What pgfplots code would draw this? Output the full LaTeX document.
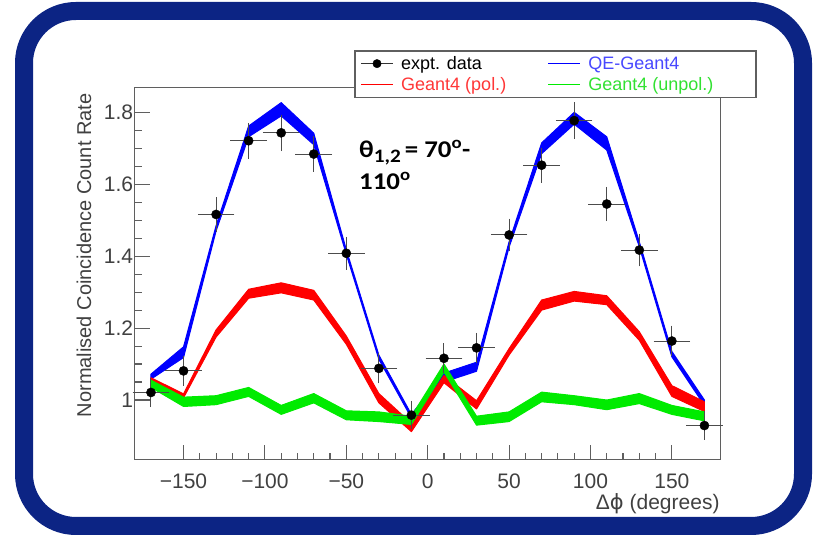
\documentclass[border=0pt]{standalone}
\usepackage{fontspec}
\setmainfont{Liberation Sans}
\newfontfamily\carlito[FakeStretch=1.12]{Carlito}
\newfontfamily\dejavu{DejaVu Sans}
\usepackage{pgfplots}
\pgfplotsset{compat=1.18}
\definecolor{navy}{RGB}{12,36,132}
\definecolor{axgray}{RGB}{95,95,95}
\definecolor{rgreen}{RGB}{0,235,0}
\definecolor{rblue}{RGB}{0,0,255}
\definecolor{rred}{RGB}{255,0,0}
\definecolor{tblue}{RGB}{72,72,255}
\definecolor{tred}{RGB}{255,55,55}
\definecolor{tgreen}{RGB}{50,225,50}
\begin{document}
\begin{tikzpicture}[x=1pt,y=1pt]
\path[use as bounding box] (0pt,0pt) rectangle (815pt,538pt);
\draw[navy, line width=18pt, rounded corners=52pt] (24pt,12pt) rectangle (803pt,527pt);
\begin{axis}[
  at={(134.7pt,78.4pt)}, anchor=south west, scale only axis,
  width=586pt, height=372.3pt, clip=false,
  xmin=-180, xmax=180, ymin=0.8343, ymax=1.8696,
  axis line style={axgray, line width=1.3pt},
  xtick={-150,-100,...,150}, xticklabels={−150,−100,−50,0,50,100,150},
  ytick={1,1.2,1.4,1.6,1.8}, yticklabels={1,1.2,1.4,1.6,1.8},
  minor x tick num=4, minor y tick num=3,
  tick pos=left,
  tick style={axgray, line width=1.1pt},
  major tick length=15pt, minor tick length=7pt,
  tick label style={font=\fontsize{21}{25}\selectfont, text=black!75},
  xticklabel style={yshift=-11pt},
  yticklabel style={xshift=2pt},
  xlabel={Δ{\dejavu ϕ} (degrees)},
  ylabel={Normalised Coincidence Count Rate},
  xlabel style={at={(axis description cs:1.004,-0.1185)}, anchor=east, font=\fontsize{21}{25}\selectfont, text=black!75},
  ylabel style={at={(axis description cs:-0.0865,0.9927)}, anchor=east, font=\fontsize{20}{24}\selectfont, text=black!75},
  legend columns=2, legend cell align=left,
  legend style={draw=none, fill=none, at={(axis description cs:0.3862,1.089)}, anchor=north west,
    font=\fontsize{18}{21}\selectfont, inner sep=0pt, row sep=3pt,
    /tikz/every odd column/.append style={column sep=6pt},
    /tikz/every even column/.append style={column sep=40pt}},
]
% QE-Geant4 band
\addplot[draw=rblue, fill=rblue, line width=1pt, line join=round, forget plot] coordinates {
 (-170,1.072) (-150,1.148) (-130,1.485) (-110,1.762) (-90,1.827) (-70,1.742)
 (-50,1.418) (-30,1.125) (-10,0.960) (10,1.075) (30,1.105) (50,1.440)
 (70,1.715) (90,1.800) (110,1.732) (130,1.440) (150,1.135) (170,1.000)
 (170,0.985) (150,1.120) (130,1.426) (110,1.695) (90,1.767) (70,1.685)
 (50,1.425) (30,1.080) (10,1.050) (-10,0.950) (-30,1.113) (-50,1.405)
 (-70,1.710) (-90,1.790) (-110,1.732) (-130,1.470) (-150,1.118) (-170,1.058)
} -- cycle;
% Geant4 (pol.) band
\addplot[draw=rred, fill=rred, line width=1pt, line join=round, forget plot] coordinates {
 (-170,1.062) (-150,1.017) (-130,1.195) (-110,1.308) (-90,1.326) (-70,1.305)
 (-50,1.178) (-30,1.018) (-10,0.935) (10,1.068) (30,0.998) (50,1.143)
 (70,1.278) (90,1.302) (110,1.290) (130,1.190) (150,1.040) (170,0.995)
 (170,0.968) (150,1.010) (130,1.166) (110,1.265) (90,1.275) (70,1.250)
 (50,1.125) (30,0.975) (10,1.048) (-10,0.912) (-30,0.992) (-50,1.155)
 (-70,1.278) (-90,1.298) (-110,1.283) (-130,1.175) (-150,1.006) (-170,1.050)
} -- cycle;
% Geant4 (unpol.) band
\addplot[draw=rgreen, fill=rgreen, line width=1pt, line join=round, forget plot] coordinates {
 (-170,1.055) (-150,1.008) (-130,1.012) (-110,1.035) (-90,0.985) (-70,1.018)
 (-50,0.970) (-30,0.967) (-10,0.955) (10,1.100) (30,0.955) (50,0.967)
 (70,1.022) (90,1.012) (110,1.000) (130,1.018) (150,0.985) (170,0.967)
 (170,0.942) (150,0.960) (130,0.990) (110,0.973) (90,0.987) (70,0.995)
 (50,0.940) (30,0.930) (10,1.078) (-10,0.932) (-30,0.940) (-50,0.945)
 (-70,0.992) (-90,0.960) (-110,1.010) (-130,0.987) (-150,0.982) (-170,1.035)
} -- cycle;
% experimental data
\addplot[black, only marks, mark=*, mark size=4.6pt, forget plot,
  error bars/.cd, x dir=both, x explicit, y dir=both, y explicit,
  error bar style={black!70, line width=1pt},
  error mark options={black!70, line width=1pt, mark size=2pt}] coordinates {
 (-170,1.021) +- (10,0.035)
 (-150,1.081) +- (10,0.036)
 (-130,1.516) +- (10,0.042)
 (-110,1.721) +- (10,0.044)
 (-90,1.743) +- (10,0.045)
 (-70,1.684) +- (10,0.044)
 (-50,1.408) +- (10,0.040)
 (-30,1.088) +- (10,0.036)
 (-10,0.958) +- (10,0.034)
 (10,1.116) +- (10,0.036)
 (30,1.145) +- (10,0.036)
 (50,1.459) +- (10,0.040)
 (70,1.653) +- (10,0.043)
 (90,1.777) +- (10,0.045)
 (110,1.545) +- (10,0.042)
 (130,1.417) +- (10,0.040)
 (150,1.164) +- (10,0.037)
 (170,0.929) +- (10,0.034)
};
% legend frame (white, covers the top axis line as in ROOT)
\filldraw[fill=white, draw=axgray, line width=1.3pt]
  (rel axis cs:0.3760,0.9731) rectangle (rel axis cs:1.0603,1.0975);
\addlegendimage{legend image code/.code={\node[inner sep=0pt, anchor=west] at (0pt,0pt) {\textcolor{black!80}{\rule[-0.6pt]{32pt}{1.2pt}}}; \fill[color=black, fill=black] (16pt,0pt) circle (4.2pt);}}
\addlegendentry{expt. data}
\addlegendimage{legend image code/.code={\node[inner sep=0pt, anchor=west] at (0pt,0pt) {\textcolor{rblue}{\textcolor{rblue}{\rule[-0.6pt]{32pt}{1.2pt}}}};}}
\addlegendentry{\textcolor{tblue}{QE-Geant4}}
\addlegendimage{legend image code/.code={\node[inner sep=0pt, anchor=west] at (0pt,0pt) {\textcolor{rred}{\rule[-0.6pt]{32pt}{1.2pt}}};}}
\addlegendentry{\textcolor{tred}{Geant4 (pol.)}}
\addlegendimage{legend image code/.code={\node[inner sep=0pt, anchor=west] at (0pt,0pt) {\textcolor{rgreen}{\rule[-0.6pt]{32pt}{1.2pt}}};}}
\addlegendentry{\textcolor{tgreen}{Geant4 (unpol.)}}
\end{axis}
\node[anchor=base west, inner sep=0pt, font=\carlito\bfseries\fontsize{24}{28}\selectfont] at (359pt,380pt)
  {θ\raisebox{-0.35ex}{\fontsize{19}{19}\selectfont 1,2}\,= 70\textsuperscript{o}-};
\node[anchor=base west, inner sep=0pt, font=\carlito\bfseries\fontsize{24}{28}\selectfont] at (359pt,348pt)
  {110\textsuperscript{o}};
\end{tikzpicture}
\end{document}
